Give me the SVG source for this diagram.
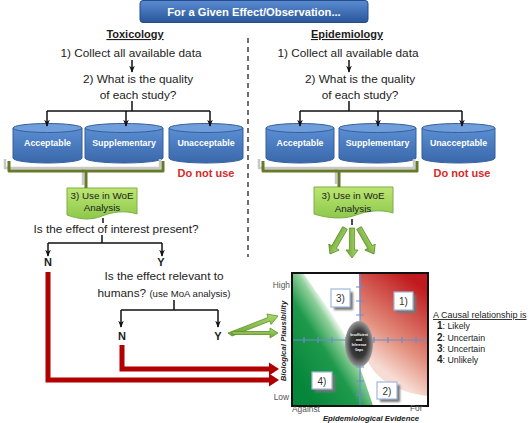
<svg xmlns="http://www.w3.org/2000/svg" width="529" height="423" viewBox="0 0 529 423">
<defs>
<style>
.t{font-family:"Liberation Sans",Arial,sans-serif;fill:#1c1c1c;font-size:11.8px}
.b{font-weight:bold}
.m{text-anchor:middle}
.cyl{fill:url(#gCyl);stroke:#355f9c;stroke-width:1}
.cyltop{fill:#6f9edb;stroke:#355f9c;stroke-width:1}
.cylt{font-family:"Liberation Sans",Arial,sans-serif;font-weight:bold;font-size:8.8px;fill:#fff;text-anchor:middle}
.dnu{font-family:"Liberation Sans",Arial,sans-serif;font-weight:bold;font-size:11px;fill:#d62a2a;text-anchor:middle}
.woe{fill:url(#gWoe);stroke:#7eae45;stroke-width:1}
.woet{font-family:"Liberation Sans",Arial,sans-serif;font-size:9.8px;fill:#1c1c1c;text-anchor:middle}
.c{stroke:#111;stroke-width:1.5;fill:none}
.ca{stroke:#111;stroke-width:1.5;fill:none;marker-end:url(#ah)}
.br{stroke:#667a2a;stroke-width:3;fill:none;stroke-linejoin:round}
.brs{stroke:#c8c8c8;stroke-width:2.5;fill:none}
.red{stroke:#b00000;stroke-width:5;fill:none;stroke-linejoin:miter}
.redh{fill:#b00000}
.ga{fill:url(#gArrow);stroke:#5f8f2c;stroke-width:0.8}
.ax{stroke:#6b8ccb;stroke-width:1.2;fill:none}
.nb{fill:#fff;stroke:#9fb8dc;stroke-width:1.2}
.nbs{fill:#777;filter:url(#sh)}
.nbt{font-family:"Liberation Sans",Arial,sans-serif;font-size:10px;fill:#333;text-anchor:middle}
.lab{font-family:"Liberation Sans",Arial,sans-serif;font-size:8.4px;fill:#555}
.axt{font-family:"Liberation Sans",Arial,sans-serif;font-size:7.8px;font-weight:bold;font-style:italic;fill:#222}
.lg{font-family:"Liberation Sans",Arial,sans-serif;font-size:8.8px;fill:#222}
</style>
<linearGradient id="gTitle" x1="0" y1="0" x2="0" y2="1"><stop offset="0" stop-color="#5a8bd2"/><stop offset="1" stop-color="#2a569a"/></linearGradient>
<linearGradient id="gCyl" x1="0" y1="0" x2="0" y2="1"><stop offset="0" stop-color="#5a8ed3"/><stop offset="1" stop-color="#3a67aa"/></linearGradient>
<linearGradient id="gWoe" x1="0" y1="0" x2="0" y2="1"><stop offset="0" stop-color="#bde672"/><stop offset="1" stop-color="#8cc84b"/></linearGradient>
<linearGradient id="gArrow" x1="0" y1="0" x2="0" y2="1"><stop offset="0" stop-color="#a9d96a"/><stop offset="1" stop-color="#6ea535"/></linearGradient>
<linearGradient id="gGreen" gradientUnits="userSpaceOnUse" x1="298" y1="380" x2="352" y2="346"><stop offset="0" stop-color="#06863a"/><stop offset="0.6" stop-color="#1f9a4c"/><stop offset="0.88" stop-color="#8fcf9a"/><stop offset="1" stop-color="#eef8ef"/></linearGradient>
<linearGradient id="gRed" gradientUnits="userSpaceOnUse" x1="372" y1="362" x2="426" y2="290"><stop offset="0" stop-color="#f7dcd4"/><stop offset="0.35" stop-color="#e3907e"/><stop offset="1" stop-color="#c01a1e"/></linearGradient>
<radialGradient id="gCenter" cx="0.5" cy="0.5" r="0.5"><stop offset="0" stop-color="#1a1a1a"/><stop offset="0.6" stop-color="#3a3a3a"/><stop offset="1" stop-color="#9a9a9a"/></radialGradient>
<marker id="ah" viewBox="0 0 10 10" refX="9" refY="5" markerWidth="7" markerHeight="7" markerUnits="userSpaceOnUse" orient="auto"><path d="M0,1 L10,5 L0,9 L3,5 Z" fill="#111"/></marker>
<filter id="sh" x="-30%" y="-30%" width="160%" height="160%"><feGaussianBlur stdDeviation="1.2"/></filter>
</defs>

<rect width="529" height="423" fill="#fff"/>

<g id="title">
<rect x="140" y="0.5" width="228" height="22" rx="3" fill="url(#gTitle)" stroke="#234c88" stroke-width="1"/>
<text x="254" y="16" class="t b m" style="fill:#fff;font-size:11.2px">For a Given Effect/Observation...</text>
</g>

<g id="divider"><line x1="248" y1="38" x2="248" y2="257" stroke="#222" stroke-width="1.3" stroke-dasharray="5,4"/></g>

<!-- Toxicology column -->
<g id="tox-head"><text x="135" y="38" class="t b m" style="font-size:11px" text-decoration="underline">Toxicology</text></g>
<g id="tox-collect"><text x="131" y="57" class="t m">1) Collect all available data</text></g>
<g id="tox-quality"><text x="138" y="83" class="t m">2) What is the quality</text><text x="138" y="99" class="t m">of each study?</text></g>

<g id="tox-acceptable"><path class="cyl" d="M13,128 V158 A34.5,5 0 0 0 82,158 V128 Z"/><ellipse class="cyltop" cx="47.5" cy="128" rx="34.5" ry="4.5"/><text x="47.5" y="146" class="cylt">Acceptable</text></g>
<g id="tox-supplementary"><path class="cyl" d="M85,128 V158 A39,5 0 0 0 163,158 V128 Z"/><ellipse class="cyltop" cx="124" cy="128" rx="39" ry="4.5"/><text x="124" y="146" class="cylt">Supplementary</text></g>
<g id="tox-unacceptable"><path class="cyl" d="M169,128 V158 A37,5 0 0 0 243,158 V128 Z"/><ellipse class="cyltop" cx="206" cy="128" rx="37" ry="4.5"/><text x="206" y="146" class="cylt">Unacceptable</text></g>
<g id="tox-donotuse"><text x="206" y="177" class="dnu">Do not use</text></g>

<g id="tox-woe"><path class="woe" d="M67,188 H137 V214 C125,210 112,212 102,216 C90,221 78,219 67,215 Z"/><text x="102" y="199" class="woet">3) Use in WoE</text><text x="102" y="211" class="woet">Analysis</text></g>

<g id="tox-present"><text x="116" y="233" class="t m">Is the effect of interest present?</text></g>
<g id="tox-N1"><text x="48" y="266" class="t b m" style="font-size:11px">N</text></g>
<g id="tox-Y1"><text x="161" y="266" class="t b m" style="font-size:11px">Y</text></g>
<g id="tox-relevant"><text x="164" y="280" class="t m">Is the effect relevant to</text><text x="164" y="297" class="t m">humans? <tspan style="font-size:9.6px">(use MoA analysis)</tspan></text></g>
<g id="tox-N2"><text x="122" y="340" class="t b m" style="font-size:11px">N</text></g>
<g id="tox-Y2"><text x="218" y="340" class="t b m" style="font-size:11px">Y</text></g>

<!-- Epidemiology column -->
<g id="epi-head"><text x="347" y="38" class="t b m" style="font-size:11px" text-decoration="underline">Epidemiology</text></g>
<g id="epi-collect"><text x="348" y="57" class="t m">1) Collect all available data</text></g>
<g id="epi-quality"><text x="360" y="83" class="t m">2) What is the quality</text><text x="360" y="99" class="t m">of each study?</text></g>

<g id="epi-acceptable"><path class="cyl" d="M266,128 V158 A34,5 0 0 0 334,158 V128 Z"/><ellipse class="cyltop" cx="300" cy="128" rx="34" ry="4.5"/><text x="300" y="146" class="cylt">Acceptable</text></g>
<g id="epi-supplementary"><path class="cyl" d="M339,128 V158 A38.5,5 0 0 0 416,158 V128 Z"/><ellipse class="cyltop" cx="377.5" cy="128" rx="38.5" ry="4.5"/><text x="377.5" y="146" class="cylt">Supplementary</text></g>
<g id="epi-unacceptable"><path class="cyl" d="M422,128 V158 A36.5,5 0 0 0 495,158 V128 Z"/><ellipse class="cyltop" cx="458.5" cy="128" rx="36.5" ry="4.5"/><text x="458.5" y="146" class="cylt">Unacceptable</text></g>
<g id="epi-donotuse"><text x="462" y="177" class="dnu">Do not use</text></g>

<g id="epi-woe"><path class="woe" d="M314,187 H393 V213 C381,209 367,211 356,215 C344,220 326,218 314,214 Z"/><text x="353" y="199" class="woet">3) Use in WoE</text><text x="353" y="212" class="woet">Analysis</text></g>

<!-- Chart -->
<g id="chart">
<rect x="292" y="273" width="136" height="133" fill="#fff"/>
<path d="M292,273 H303 C326,306 348,333 358,362 C365,382 370,396 373,406 H292 Z" fill="url(#gGreen)"/>
<path d="M359,273 H428 V396 C395,392 372,378 364,352 C360,338 360,320 359,273 Z" fill="url(#gRed)"/>
<g class="ax">
<line x1="292" y1="340" x2="428" y2="340"/>
<line x1="360" y1="273" x2="360" y2="406"/>
<path d="M304,337 V343 M318,337 V343 M332,337 V343 M346,337 V343 M374,337 V343 M388,337 V343 M402,337 V343 M416,337 V343"/>
<path d="M356,287 H364 M356,301 H364 M356,315 H364 M356,367 H364 M356,381 H364 M356,395 H364"/>
</g>
<ellipse cx="359" cy="344" rx="14" ry="23" fill="url(#gCenter)"/>
<g style="font-family:'Liberation Sans',Arial,sans-serif;font-size:3.3px;fill:#fff;text-anchor:middle;font-weight:bold">
<text x="359" y="336">Insufficient</text><text x="359" y="341">and</text><text x="359" y="346">Inference</text><text x="359" y="351">Gaps</text>
</g>
<rect x="292" y="273" width="136" height="133" fill="none" stroke="#111" stroke-width="2"/>
</g>
<g id="box3"><rect class="nbs" x="334" y="292" width="19" height="18"/><rect class="nb" x="331" y="289" width="19" height="18"/><text x="340.5" y="302" class="nbt">3)</text></g>
<g id="box1"><rect class="nbs" x="397" y="295" width="19" height="18"/><rect class="nb" x="394" y="292" width="19" height="18"/><text x="403.5" y="305" class="nbt">1)</text></g>
<g id="box4"><rect class="nbs" x="315" y="375" width="20" height="17"/><rect class="nb" x="312" y="372" width="20" height="17"/><text x="322" y="384.5" class="nbt">4)</text></g>
<g id="box2"><rect class="nbs" x="380" y="385" width="20" height="17"/><rect class="nb" x="377" y="382" width="20" height="17"/><text x="387" y="394.5" class="nbt">2)</text></g>

<g id="chart-labels">
<text x="290" y="288" class="lab" text-anchor="end">High</text>
<text x="289" y="400" class="lab" text-anchor="end">Low</text>
<text x="292" y="412" class="lab">Against</text>
<text x="410" y="411" class="lab">For</text>
<text x="371" y="420.5" class="axt" text-anchor="middle">Epidemiological Evidence</text>
<text transform="translate(286,341) rotate(-90)" class="axt" text-anchor="middle">Biological Plausibility</text>
</g>

<g id="legend">
<text x="433" y="318" class="lg" text-decoration="underline" style="font-size:9px">A Causal relationship is</text>
<text x="437" y="329" class="lg"><tspan font-weight="bold" font-size="10px">1</tspan>: Likely</text>
<text x="437" y="341" class="lg"><tspan font-weight="bold" font-size="10px">2</tspan>: Uncertain</text>
<text x="437" y="352" class="lg"><tspan font-weight="bold" font-size="10px">3</tspan>: Uncertain</text>
<text x="437" y="363" class="lg"><tspan font-weight="bold" font-size="10px">4</tspan>: Unlikely</text>
</g>

<g id="connectors">
<!-- tox -->
<line class="ca" x1="132" y1="60" x2="132" y2="72"/>
<path class="c" d="M132,101 V111 M47,111 H210"/>
<line class="ca" x1="47" y1="111" x2="47" y2="126"/>
<line class="ca" x1="126" y1="111" x2="126" y2="126"/>
<line class="ca" x1="210" y1="111" x2="210" y2="126"/>
<path class="brs" d="M5,159 V168 H160 V159 M83,168 V185"/>
<path class="br" d="M9,161 V171 H163 V161 M86,171 V188"/>
<line class="c" x1="103" y1="218" x2="103" y2="223"/>
<path class="c" d="M102,235 V243 M48,243 H162"/>
<line class="ca" x1="48" y1="243" x2="48" y2="256"/>
<line class="ca" x1="162" y1="243" x2="162" y2="256"/>
<path class="c" d="M174,300 V310 M121,310 H218"/>
<line class="ca" x1="121" y1="310" x2="121" y2="327"/>
<line class="ca" x1="218" y1="310" x2="218" y2="327"/>
<!-- red -->
<path class="red" d="M48,272 V380 H271"/>
<polygon class="redh" points="269,373.5 279,380 269,386.5"/>
<path class="red" d="M122,345 V369 H271"/>
<polygon class="redh" points="269,362.5 279,369 269,375.5"/>
<!-- green from Y -->
<path class="ga" d="M228,333 L268,317.5 L267,314 L278,316 L271,324.5 L270,321 L232,336 Z"/>
<path class="ga" d="M232,331.5 H270 V328 L278,333 L270,338 V334.5 H232 Z"/>
<!-- epi -->
<line class="ca" x1="349" y1="60" x2="349" y2="72"/>
<path class="c" d="M349,101 V111 M300,111 H462"/>
<line class="ca" x1="300" y1="111" x2="300" y2="126"/>
<line class="ca" x1="378" y1="111" x2="378" y2="126"/>
<line class="ca" x1="462" y1="111" x2="462" y2="126"/>
<path class="brs" d="M259,159 V168 H414 V159 M336,168 V184"/>
<path class="br" d="M263,161 V171 H417 V161 M339,171 V187"/>
<line class="c" x1="352" y1="219" x2="352" y2="225"/>
<path class="ga" transform="translate(352,228) rotate(90)" d="M0,-2.6 H22 V-6 L30,0 L22,6 V2.6 H0 Z"/>
<path class="ga" transform="translate(345,228) rotate(120)" d="M0,-2.6 H22 V-6 L30,0 L22,6 V2.6 H0 Z"/>
<path class="ga" transform="translate(359,228) rotate(60)" d="M0,-2.6 H22 V-6 L30,0 L22,6 V2.6 H0 Z"/>
</g>
</svg>
